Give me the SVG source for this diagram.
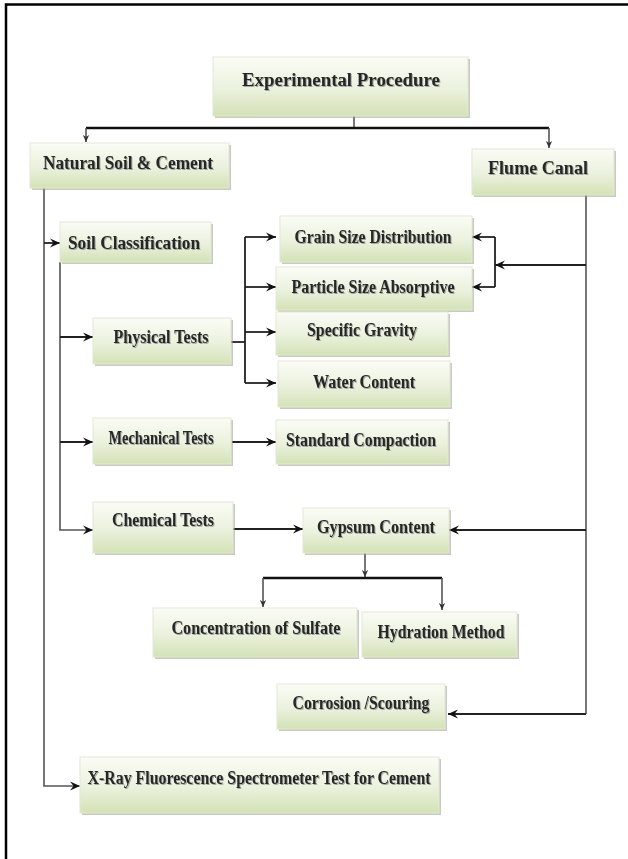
<svg xmlns="http://www.w3.org/2000/svg" width="628" height="859" viewBox="0 0 628 859">
<defs>
<linearGradient id="g" x1="0" y1="0" x2="0" y2="1">
<stop offset="0" stop-color="#fbfcf6"/>
<stop offset="0.55" stop-color="#eaf1dc"/>
<stop offset="1" stop-color="#d3e2b6"/>
</linearGradient>
<filter id="ts" x="-5%" y="-20%" width="110%" height="140%">
<feDropShadow dx="1" dy="1" stdDeviation="0.6" flood-color="#777" flood-opacity="0.6"/>
</filter>
<marker id="a" viewBox="0 0 10 10" refX="10" refY="5" markerWidth="10" markerHeight="10" markerUnits="userSpaceOnUse" orient="auto">
<path d="M0,0.5 L10,5 L0,9.5 L3.5,5 z" fill="#111"/>
</marker>
<marker id="s" viewBox="0 0 10 10" refX="10" refY="5" markerWidth="7" markerHeight="7" markerUnits="userSpaceOnUse" orient="auto">
<path d="M0,0.5 L10,5 L0,9.5 L3,5 z" fill="#333"/>
</marker>
</defs>
<style>
.box{fill:url(#g);stroke:#e3e8d6;stroke-width:1}
.sh{fill:#9a9f92;opacity:0.55}
.t{font-family:"Liberation Serif","Times New Roman",serif;font-weight:bold;font-size:18px;fill:#262626;text-anchor:middle;dominant-baseline:central;filter:url(#ts)}
.c{fill:none;stroke:#222;stroke-width:1.8}
.g{fill:none;stroke:#555;stroke-width:1.6}
</style>
<rect width="628" height="859" fill="#fff"/>
<path d="M6,859 V4.5 H628" fill="none" stroke="#000" stroke-width="2.5"/>

<g id="connectors">
<path class="g" d="M354,116 V128"/>
<path d="M86,128 H549" fill="none" stroke="#111" stroke-width="2.6"/>
<path class="g" d="M86,128 V142" marker-end="url(#s)"/>
<path class="g" d="M549,128 V148" marker-end="url(#s)"/>
<path class="g" d="M44,188 V786 H80" marker-end="url(#a)"/>
<path class="c" d="M44,243 H60" marker-end="url(#a)"/>
<path class="g" d="M60,262 V530 H93" marker-end="url(#a)"/>
<path class="c" d="M60,337 H93" marker-end="url(#a)"/>
<path class="c" d="M60,442 H93" marker-end="url(#a)"/>
<path class="c" d="M231,342 H245"/>
<path class="c" d="M245,237 V383"/>
<path class="c" d="M245,237 H276" marker-end="url(#a)"/>
<path class="c" d="M245,287 H276" marker-end="url(#a)"/>
<path class="c" d="M245,332 H276" marker-end="url(#a)"/>
<path class="c" d="M245,383 H276" marker-end="url(#a)"/>
<path class="c" d="M232,442 H276" marker-end="url(#a)"/>
<path class="c" d="M233,529 H303" marker-end="url(#a)"/>
<path class="g" d="M586,195 V714"/>
<path class="c" d="M586,265 H495" marker-end="url(#a)"/>
<path class="c" d="M495,237 V287"/>
<path class="c" d="M495,237 H472" marker-end="url(#a)"/>
<path class="c" d="M495,287 H472" marker-end="url(#a)"/>
<path class="c" d="M586,530 H449" marker-end="url(#a)"/>
<path class="c" d="M586,714 H448" marker-end="url(#a)"/>
<path class="g" d="M365,553 V577" marker-end="url(#s)"/>
<path d="M263,578 H442" fill="none" stroke="#111" stroke-width="2.4"/>
<path class="g" d="M263,578 V607" marker-end="url(#s)"/>
<path class="g" d="M442,578 V610" marker-end="url(#s)"/>
</g>

<g id="n-experimental">
<rect class="sh" x="215" y="59" width="255" height="59"/>
<rect class="box" x="213" y="57" width="255" height="59"/>
<text class="t" x="341" y="80" font-size="22" textLength="198" lengthAdjust="spacingAndGlyphs">Experimental Procedure</text>
</g>
<g id="n-natural">
<rect class="sh" x="32" y="145" width="199" height="45"/>
<rect class="box" x="30" y="143" width="199" height="45"/>
<text class="t" x="128" y="163" font-size="19" textLength="170" lengthAdjust="spacingAndGlyphs">Natural Soil &amp; Cement</text>
</g>
<g id="n-flume">
<rect class="sh" x="474" y="151" width="142" height="46"/>
<rect class="box" x="472" y="149" width="142" height="46"/>
<text class="t" x="538" y="168" font-size="19" textLength="100" lengthAdjust="spacingAndGlyphs">Flume Canal</text>
</g>
<g id="n-soilclass">
<rect class="sh" x="62" y="224" width="151" height="40"/>
<rect class="box" x="60" y="222" width="151" height="40"/>
<text class="t" x="134" y="243" textLength="132" lengthAdjust="spacingAndGlyphs">Soil Classification</text>
</g>
<g id="n-grain">
<rect class="sh" x="282" y="218" width="192" height="46"/>
<rect class="box" x="280" y="216" width="192" height="46"/>
<text class="t" x="373" y="237" textLength="157" lengthAdjust="spacingAndGlyphs">Grain Size Distribution</text>
</g>
<g id="n-particle">
<rect class="sh" x="278" y="269" width="196" height="43"/>
<rect class="box" x="276" y="267" width="196" height="43"/>
<text class="t" x="373" y="287" textLength="163" lengthAdjust="spacingAndGlyphs">Particle Size Absorptive</text>
</g>
<g id="n-specific">
<rect class="sh" x="278" y="314" width="172" height="43"/>
<rect class="box" x="276" y="312" width="172" height="43"/>
<text class="t" x="362" y="330" textLength="110" lengthAdjust="spacingAndGlyphs">Specific Gravity</text>
</g>
<g id="n-water">
<rect class="sh" x="280" y="363" width="172" height="46"/>
<rect class="box" x="278" y="361" width="172" height="46"/>
<text class="t" x="364" y="382" textLength="102" lengthAdjust="spacingAndGlyphs">Water Content</text>
</g>
<g id="n-physical">
<rect class="sh" x="95" y="320" width="138" height="46"/>
<rect class="box" x="93" y="318" width="138" height="46"/>
<text class="t" x="161" y="337" textLength="95" lengthAdjust="spacingAndGlyphs">Physical Tests</text>
</g>
<g id="n-mechanical">
<rect class="sh" x="95" y="420" width="138" height="46"/>
<rect class="box" x="93" y="418" width="138" height="46"/>
<text class="t" x="161" y="438" font-size="16" textLength="105" lengthAdjust="spacingAndGlyphs">Mechanical Tests</text>
</g>
<g id="n-standard">
<rect class="sh" x="278" y="422" width="172" height="44"/>
<rect class="box" x="276" y="420" width="172" height="44"/>
<text class="t" x="361" y="440" textLength="150" lengthAdjust="spacingAndGlyphs">Standard Compaction</text>
</g>
<g id="n-chemical">
<rect class="sh" x="95" y="504" width="140" height="51"/>
<rect class="box" x="93" y="502" width="140" height="51"/>
<text class="t" x="163" y="520" textLength="102" lengthAdjust="spacingAndGlyphs">Chemical Tests</text>
</g>
<g id="n-gypsum">
<rect class="sh" x="305" y="510" width="146" height="45"/>
<rect class="box" x="303" y="508" width="146" height="45"/>
<text class="t" x="376" y="527" textLength="118" lengthAdjust="spacingAndGlyphs">Gypsum Content</text>
</g>
<g id="n-sulfate">
<rect class="sh" x="155" y="610" width="204" height="49"/>
<rect class="box" x="153" y="608" width="204" height="49"/>
<text class="t" x="256" y="628" textLength="169" lengthAdjust="spacingAndGlyphs">Concentration of Sulfate</text>
</g>
<g id="n-hydration">
<rect class="sh" x="364" y="614" width="155" height="45"/>
<rect class="box" x="362" y="612" width="155" height="45"/>
<text class="t" x="441" y="632" textLength="127" lengthAdjust="spacingAndGlyphs">Hydration Method</text>
</g>
<g id="n-corrosion">
<rect class="sh" x="279" y="686" width="168" height="45"/>
<rect class="box" x="277" y="684" width="168" height="45"/>
<text class="t" x="361" y="703" textLength="137" lengthAdjust="spacingAndGlyphs">Corrosion /Scouring</text>
</g>
<g id="n-xray">
<rect class="sh" x="82" y="759" width="359" height="56"/>
<rect class="box" x="80" y="757" width="359" height="56"/>
<text class="t" x="259" y="778" textLength="343" lengthAdjust="spacingAndGlyphs">X-Ray Fluorescence Spectrometer Test for Cement</text>
</g>
</svg>
